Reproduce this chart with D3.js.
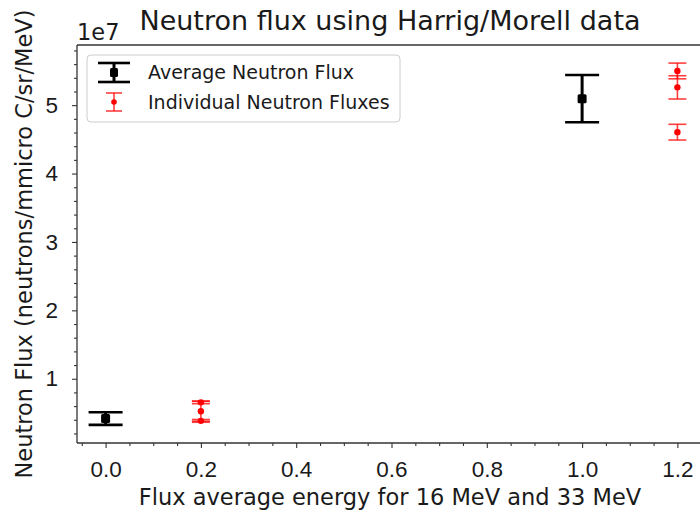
<!DOCTYPE html>
<html>
<head>
<meta charset="utf-8">
<script src="https://cdn.jsdelivr.net/npm/d3@7/dist/d3.min.js"></script>
<style>
  body { margin: 0; background: #fff; }
  svg { font-family: "DejaVu Sans", sans-serif; display: block; }
</style>
</head>
<body>
<script>
var width = 700, height = 515;
var margin = {left: 77, top: 45, right: -6, bottom: 72};

// average flux (black)
var avgX = [0.0, 1.0];
var avgY = [4.18e6, 5.095e7];
var avgErr = [0.93e6, 0.345e7];

// individual fluxes (red)
var indX = [0.2, 0.2, 0.2, 1.2, 1.2, 1.2];
var indY = [6.55e6, 5.24e6, 3.84e6, 5.50e7, 5.26e7, 4.605e7];
var indErr = [0.2e6, 1.45e6, 0.2e6, 0.115e7, 0.17e7, 0.115e7];

var xTicks = [0.0, 0.2, 0.4, 0.6, 0.8, 1.0, 1.2];
var yTicks = [1e7, 2e7, 3e7, 4e7, 5e7];

var svg = d3.select("body").append("svg")
    .attr("width", width)
    .attr("height", height);

var x0 = margin.left, x1 = width - margin.right;
var y0 = height - margin.bottom, y1 = margin.top;

// limits like matplotlib: 5% margins around data (incl. error bars)
var xs = avgX.concat(indX);
var xmin = d3.min(xs), xmax = d3.max(xs), xr = xmax - xmin;
var lows = avgY.map(function(v, i){ return v - avgErr[i]; })
    .concat(indY.map(function(v, i){ return v - indErr[i]; }));
var highs = avgY.map(function(v, i){ return v + avgErr[i]; })
    .concat(indY.map(function(v, i){ return v + indErr[i]; }));
var ymin = d3.min(lows), ymax = d3.max(highs), yr = ymax - ymin;

var x = d3.scaleLinear().domain([xmin - 0.05*xr, xmax + 0.05*xr]).range([x0, x1]);
var y = d3.scaleLinear().domain([ymin - 0.05*yr, ymax + 0.05*yr]).range([y0, y1]);

var textColor = "#1a1a1a";
var fs = "22.5px";

// axes
var xMinor = d3.range(-0.05, 1.26, 0.05).filter(function(t){
    return Math.abs(Math.round(t*20) % 4) != 0 && t >= x.domain()[0] && t <= x.domain()[1];
});
var yMinor = d3.range(0.2e7, 5.9e7, 0.2e7).filter(function(t){
    return Math.round(t/0.2e7) % 5 != 0 && t >= y.domain()[0] && t <= y.domain()[1];
});

svg.append("g").attr("transform", "translate(0," + y0 + ")")
    .call(d3.axisBottom(x).tickValues(xTicks).tickFormat(d3.format(".1f")).tickSize(5).tickPadding(13));
svg.append("g").attr("transform", "translate(0," + y0 + ")")
    .call(d3.axisBottom(x).tickValues(xMinor).tickFormat("").tickSize(3));

svg.append("g").attr("transform", "translate(" + x0 + ",0)")
    .call(d3.axisLeft(y).tickValues(yTicks).tickFormat(function(d){ return d/1e7; }).tickSize(5).tickPadding(14));
svg.append("g").attr("transform", "translate(" + x0 + ",0)")
    .call(d3.axisLeft(y).tickValues(yMinor).tickFormat("").tickSize(3));

svg.selectAll(".domain").remove();
svg.selectAll(".tick line").attr("stroke", "#333").attr("stroke-width", 1.1);
svg.selectAll(".tick text").attr("fill", textColor).style("font-size", fs);

// spines
svg.append("line").attr("x1", x0).attr("x2", x0).attr("y1", y1).attr("y2", y0)
    .attr("stroke", "#333").attr("stroke-width", 1.3);
svg.append("line").attr("x1", x0).attr("x2", x1).attr("y1", y0).attr("y2", y0)
    .attr("stroke", "#333").attr("stroke-width", 1.3);
svg.append("line").attr("x1", x0).attr("x2", x1).attr("y1", y1).attr("y2", y1)
    .attr("stroke", "#333").attr("stroke-width", 1.3);

// error bars
var drawErr = function(xv, yv, ev, color, capHalf, lw, capw, opacity){
    var g = svg.append("g");
    xv.forEach(function(xx, i){
        var cx = x(xx);
        g.append("line").attr("x1", cx).attr("x2", cx)
            .attr("y1", y(yv[i] - ev[i])).attr("y2", y(yv[i] + ev[i]))
            .attr("stroke", color).attr("stroke-width", lw).attr("stroke-opacity", opacity);
        [yv[i] - ev[i], yv[i] + ev[i]].forEach(function(c){
            g.append("line").attr("x1", cx - capHalf).attr("x2", cx + capHalf)
                .attr("y1", y(c)).attr("y2", y(c))
                .attr("stroke", color).attr("stroke-width", capw).attr("stroke-opacity", opacity);
        });
    });
    return g;
};

drawErr(avgX, avgY, avgErr, "#000", 17, 3, 2.6, 1);
svg.append("g").selectAll("rect").data(avgX).enter().append("rect")
    .attr("x", function(d){ return x(d) - 4.5; })
    .attr("y", function(d, i){ return y(avgY[i]) - 4.5; })
    .attr("width", 9).attr("height", 9).attr("rx", 1.5)
    .attr("fill", "#000");

drawErr(indX, indY, indErr, "red", 9, 1.6, 1.6, 0.75);
svg.append("g").selectAll("circle").data(indX).enter().append("circle")
    .attr("cx", function(d){ return x(d); })
    .attr("cy", function(d, i){ return y(indY[i]); })
    .attr("r", 3.2)
    .attr("fill", "red");

// legend
var lg = svg.append("g");
lg.append("rect").attr("x", 87).attr("y", 55).attr("width", 313).attr("height", 67)
    .attr("rx", 4).attr("fill", "#fff").attr("fill-opacity", 0.8)
    .attr("stroke", "#ccc").attr("stroke-width", 1);
// black handle
lg.append("line").attr("x1", 114).attr("x2", 114).attr("y1", 63).attr("y2", 82)
    .attr("stroke", "#000").attr("stroke-width", 3);
[63, 82].forEach(function(yy){
    lg.append("line").attr("x1", 98).attr("x2", 130).attr("y1", yy).attr("y2", yy)
        .attr("stroke", "#000").attr("stroke-width", 2.6);
});
lg.append("rect").attr("x", 110).attr("y", 68).attr("width", 8).attr("height", 9).attr("rx", 1.5).attr("fill", "#000");
lg.append("text").attr("x", 148).attr("y", 79).text("Average Neutron Flux")
    .attr("fill", textColor).style("font-size", "19px");
// red handle
lg.append("line").attr("x1", 114).attr("x2", 114).attr("y1", 93).attr("y2", 111)
    .attr("stroke", "red").attr("stroke-width", 1.6).attr("stroke-opacity", 0.75);
[93, 111].forEach(function(yy){
    lg.append("line").attr("x1", 106).attr("x2", 122).attr("y1", yy).attr("y2", yy)
        .attr("stroke", "red").attr("stroke-width", 1.6).attr("stroke-opacity", 0.75);
});
lg.append("circle").attr("cx", 114).attr("cy", 102).attr("r", 2.8).attr("fill", "red");
lg.append("text").attr("x", 148).attr("y", 109).text("Individual Neutron Fluxes")
    .attr("fill", textColor).style("font-size", "19px");

// texts
svg.append("text").attr("x", 390).attr("y", 30).attr("text-anchor", "middle")
    .text("Neutron flux using Harrig/Morell data")
    .attr("fill", textColor).style("font-size", "27px");
svg.append("text").attr("x", 77).attr("y", 40).text("1e7")
    .attr("fill", textColor).style("font-size", fs);
svg.append("text").attr("x", 390).attr("y", 505).attr("text-anchor", "middle")
    .text("Flux average energy for 16 MeV and 33 MeV")
    .attr("fill", textColor).style("font-size", fs);
svg.append("text").attr("transform", "translate(32," + ((y0 + y1)/2) + ") rotate(-90)")
    .attr("text-anchor", "middle")
    .text("Neutron Flux (neutrons/mmicro C/sr/MeV)")
    .attr("fill", textColor).style("font-size", fs);
</script>
</body>
</html>
